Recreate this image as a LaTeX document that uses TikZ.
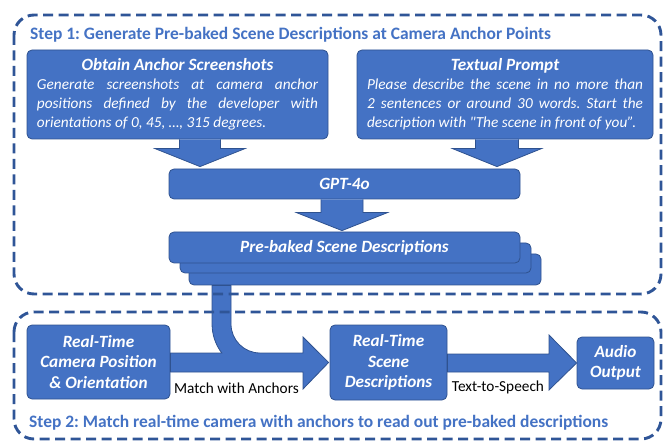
\documentclass[tikz,border=0pt]{standalone}
\usepackage{fontspec}
\setmainfont{Carlito}
\usetikzlibrary{calc}
\definecolor{fillblue}{HTML}{4472C4}
\definecolor{edgeblue}{HTML}{2F528F}
\definecolor{dashblue}{HTML}{2F5597}
\definecolor{titleblue}{HTML}{4472C4}
\newcommand\straightquote{\XeTeXglyph\XeTeXcharglyph"22\relax}
\frenchspacing
\begin{document}
\begin{tikzpicture}[x=1pt,y=-1pt,
  box/.style={draw=edgeblue, fill=fillblue, line width=0.8pt, rounded corners=5pt,
    text=white, inner sep=0pt, align=center,
    font=\fontsize{17.2}{20.5}\selectfont\bfseries\itshape},
  blockarrow/.style={draw=edgeblue, fill=fillblue, line width=0.8pt, line join=miter},
  stage/.style={draw=dashblue, line width=2.9pt, dash pattern=on 10pt off 5.5pt, rounded corners=20pt},
  steptitle/.style={text=titleblue, anchor=west, inner sep=0pt,
    font=\fontsize{17.45}{19}\selectfont\bfseries},
  lbl/.style={inner sep=0pt, font=\fontsize{15.3}{18}\selectfont}]
\useasboundingbox (0,0) rectangle (665,441);

% ---- Step 1 boxes
\node[box, minimum width=301pt, minimum height=89pt] (obtain) at (177.5,94.5)
  {\parbox{281pt}{{\centering Obtain Anchor Screenshots\par}%
   \fontsize{15.3}{19}\selectfont\mdseries\itshape
   Generate screenshots at camera anchor\linebreak
   positions defined by the developer with\linebreak
   orientations of 0, 45, …, 315 degrees.}};
\node[box, minimum width=296pt, minimum height=89pt] (prompt) at (505,94.5)
  {\parbox{276pt}{{\centering Textual Prompt\par}%
   \fontsize{15.3}{19}\selectfont\mdseries\itshape
   Please describe the scene in no more than\linebreak
   2 sentences or around 30 words. Start the\linebreak
   description with \straightquote The scene in front of you”.}};
\node[box, minimum width=351pt, minimum height=30pt] (gpt) at (344.5,184) {GPT-4o};
\node[box, minimum width=352pt, minimum height=31pt] (stack3) at (365,269.5) {};
\node[box, minimum width=351pt, minimum height=30pt] (stack2) at (355.5,258) {};
\node[box, minimum width=351pt, minimum height=31pt] (prebaked) at (344.5,247.5) {Pre-baked Scene Descriptions};

% ---- Step 2 boxes
\node[box, minimum width=143pt, minimum height=74pt] (camera) at (98.5,362)
  {Real-Time\\Camera Position\\\& Orientation};
\node[box, minimum width=117pt, minimum height=75pt] (scene) at (388.5,362.5)
  {Real-Time\\Scene\\Descriptions};
\node[box, minimum width=77pt, minimum height=52pt] (audio) at (615.5,363)
  {Audio\\Output};

% ---- block arrows (down)
\coordinate (la) at (200,0);
\coordinate (ra) at (497,0);
\coordinate (ma) at (342,0);
\coordinate (fl) at (212,0);
\coordinate (fr) at (231,0);
\draw[blockarrow] let \p1=(la |- obtain.south), \p2=($(la |- gpt.north)+(0,-2)$) in
  (\x1-20.5pt,\y1) -- (\x1-20.5pt,\y2+18pt) -- (\x1-45pt,\y2+18pt) -- (\x2,\y2)
  -- (\x1+45pt,\y2+18pt) -- (\x1+20.5pt,\y2+18pt) -- (\x1+20.5pt,\y1);
\draw[blockarrow] let \p1=(ra |- prompt.south), \p2=($(ra |- gpt.north)+(0,-2)$) in
  (\x1-21.5pt,\y1) -- (\x1-21.5pt,\y2+18pt) -- (\x1-44.5pt,\y2+18pt) -- (\x2,\y2)
  -- (\x1+44.5pt,\y2+18pt) -- (\x1+21.5pt,\y2+18pt) -- (\x1+21.5pt,\y1);
\draw[blockarrow] let \p1=(ma |- gpt.south), \p2=($(ma |- prebaked.north)+(0,-1)$) in
  (\x1-21pt,\y1) -- (\x1-21pt,\y2+18pt) -- (\x1-45.5pt,\y2+18pt) -- (\x2,\y2)
  -- (\x1+45.5pt,\y2+18pt) -- (\x1+21pt,\y2+18pt) -- (\x1+21pt,\y1);

% ---- merged arrow: camera -> scene, with curved feed from the descriptions
\draw[blockarrow]
  ($(camera.east)+(0,-9)$) -- (221.8,353) arc(142.8:180:48)
  -- (fl |- stack3.south) -- (fr |- stack3.south) -- (231,324) arc(180:90:29)
  -- (303,353) -- (303,337) -- ($(scene.west)+(-1,0)$) -- (303,389) -- (303,372)
  -- ($(camera.east)+(0,10)$) -- cycle;
% ---- scene -> audio
\draw[blockarrow]
  ($(scene.east)+(0,-8.5)$) -- (549,354) -- (549,335) -- (audio.west) -- (549,390)
  -- (549,372) -- ($(scene.east)+(0,9.5)$) -- cycle;

\node[lbl] (match) at (236.5,388) {Match with Anchors};
\node[lbl] (tts) at (498,387) {Text-to-Speech};

% ---- stage frames
\draw[stage] (14,15) rectangle (661,294);
\draw[stage] (14,312) rectangle (661,439);
\node[steptitle] (t1) at (30,35)
  {Step 1: Generate Pre-baked Scene Descriptions at Camera Anchor Points};
\node[steptitle] (t2) at (29,423)
  {Step 2: Match real-time camera with anchors to read out pre-baked descriptions};
\end{tikzpicture}
\end{document}
